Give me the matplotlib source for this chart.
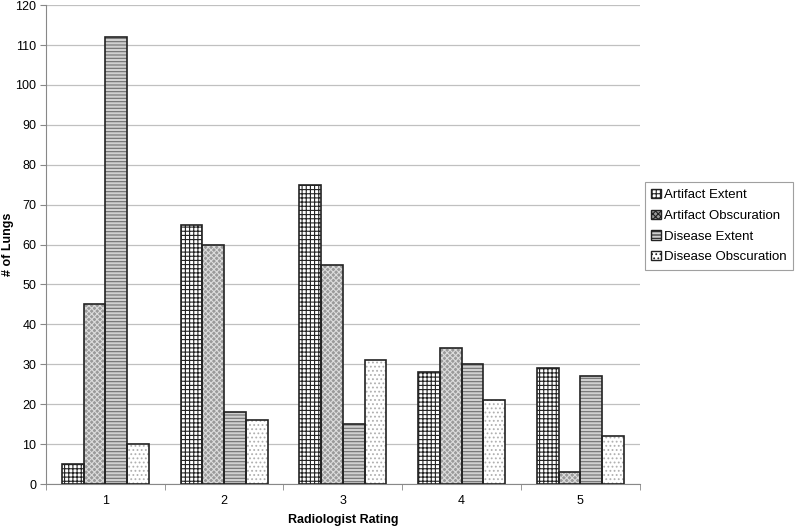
import numpy as np
import matplotlib.pyplot as plt
import matplotlib.patches as mpatches

plt.rcParams['font.family'] = ['Liberation Sans', 'DejaVu Sans']

# data
ratings = ['1', '2', '3', '4', '5']
series = ['Artifact Extent', 'Artifact Obscuration', 'Disease Extent', 'Disease Obscuration']
artifact_extent = [5, 65, 75, 28, 29]
artifact_obscuration = [45, 60, 55, 34, 3]
disease_extent = [112, 18, 15, 30, 27]
disease_obscuration = [10, 16, 31, 21, 12]
values = [artifact_extent, artifact_obscuration, disease_extent, disease_obscuration]

# fill styles: facecolor, hatch, hatch color
styles = [('white', '++++', '#222222'),
          ('#9a9a9a', 'xxxxxx', '#dcdcdc'),
          ('#d0d0d0', '-----', '#707070'),
          ('white', '....', '#b0b0b0')]

fig = plt.figure(figsize=(8, 5.28), dpi=100)
ax = fig.add_axes([0.0575, 0.0833, 0.742, 0.907])

x = np.arange(1, len(ratings) + 1)
w = 0.183
plt.rcParams['hatch.linewidth'] = 0.8
for i, (vals, (fc, hatch, hc)) in enumerate(zip(values, styles)):
    pos = x + (i - 1.5) * w
    ax.bar(pos, vals, w, color=fc, edgecolor=hc, hatch=hatch, linewidth=0, zorder=2)
    ax.bar(pos, vals, w, fill=False, edgecolor='#222222', linewidth=1.2, zorder=3)

ax.set_ylim(0, 120)
ax.set_yticks(range(0, 121, 10))
ax.set_xlim(0.5, 5.5)
ax.set_xticks(x)
ax.set_xticklabels(ratings)
ax.set_xticks(np.arange(0.5, 5.6, 1), minor=True)
ax.tick_params(axis='x', which='major', length=0, labelsize=9, pad=8)
ax.tick_params(axis='x', which='minor', length=4, color='#888888')
ax.tick_params(axis='y', length=4, color='#888888', labelsize=9, pad=3)
ax.yaxis.grid(True, color='#c0c0c0', linewidth=0.9, zorder=0)
ax.set_axisbelow(True)
for s in ['top', 'right']:
    ax.spines[s].set_visible(False)
for s in ['left', 'bottom']:
    ax.spines[s].set_color('#888888')
ax.set_xlabel('Radiologist Rating', fontsize=9, fontweight='bold', labelpad=5)
ax.set_ylabel('# of Lungs', fontsize=9, fontweight='bold')
ax.yaxis.set_label_coords(-0.054, 0.5)

handles = [mpatches.Patch(facecolor=fc, edgecolor='#222222', hatch=h, label=lab)
           for lab, (fc, h, hc) in zip(series, styles)]
leg = fig.legend(handles=handles, loc='upper left', bbox_to_anchor=(0.806, 0.655),
                 fontsize=9.5, frameon=True, fancybox=False, handlelength=0.7,
                 handleheight=0.7, handletextpad=0.25, borderpad=0.5, labelspacing=0.65,
                 borderaxespad=0)
leg.get_frame().set_edgecolor('#888888')
leg.get_frame().set_linewidth(0.8)

fig.savefig('out.png', dpi=100)
